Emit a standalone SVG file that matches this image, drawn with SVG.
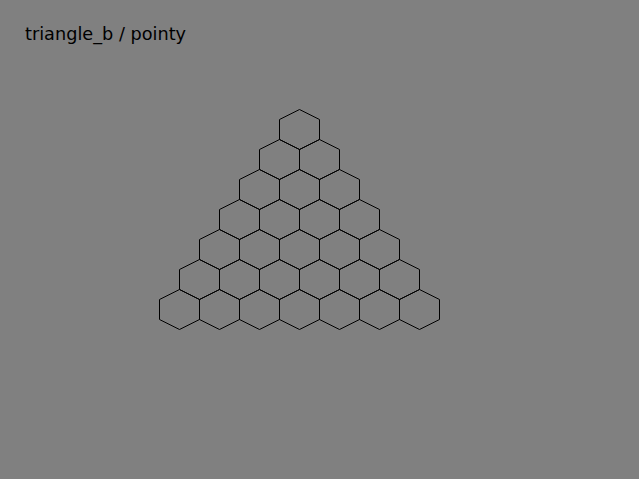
<svg xmlns="http://www.w3.org/2000/svg" xmlns:xlink="http://www.w3.org/1999/xlink" width="639" height="479" viewBox="0 0 639 479">
<style>
.hex{fill:none;stroke:#000;stroke-width:1}
.title{font-family:"DejaVu Sans",sans-serif;font-size:17.7px;fill:#000}
</style>
<defs>
<polygon id="h" class="hex" points="0,-20 20,-10 20,10 0,20 -20,10 -20,-10"/>
</defs>
<rect width="639" height="479" fill="#808080"/>
<text class="title" x="25" y="40">triangle_b / pointy</text>
<g id="connectors"/>
<g id="r0c0"><use xlink:href="#h" x="299.5" y="129.5"/></g>
<g id="r1c0"><use xlink:href="#h" x="279.5" y="159.5"/></g>
<g id="r1c1"><use xlink:href="#h" x="319.5" y="159.5"/></g>
<g id="r2c0"><use xlink:href="#h" x="259.5" y="189.5"/></g>
<g id="r2c1"><use xlink:href="#h" x="299.5" y="189.5"/></g>
<g id="r2c2"><use xlink:href="#h" x="339.5" y="189.5"/></g>
<g id="r3c0"><use xlink:href="#h" x="239.5" y="219.5"/></g>
<g id="r3c1"><use xlink:href="#h" x="279.5" y="219.5"/></g>
<g id="r3c2"><use xlink:href="#h" x="319.5" y="219.5"/></g>
<g id="r3c3"><use xlink:href="#h" x="359.5" y="219.5"/></g>
<g id="r4c0"><use xlink:href="#h" x="219.5" y="249.5"/></g>
<g id="r4c1"><use xlink:href="#h" x="259.5" y="249.5"/></g>
<g id="r4c2"><use xlink:href="#h" x="299.5" y="249.5"/></g>
<g id="r4c3"><use xlink:href="#h" x="339.5" y="249.5"/></g>
<g id="r4c4"><use xlink:href="#h" x="379.5" y="249.5"/></g>
<g id="r5c0"><use xlink:href="#h" x="199.5" y="279.5"/></g>
<g id="r5c1"><use xlink:href="#h" x="239.5" y="279.5"/></g>
<g id="r5c2"><use xlink:href="#h" x="279.5" y="279.5"/></g>
<g id="r5c3"><use xlink:href="#h" x="319.5" y="279.5"/></g>
<g id="r5c4"><use xlink:href="#h" x="359.5" y="279.5"/></g>
<g id="r5c5"><use xlink:href="#h" x="399.5" y="279.5"/></g>
<g id="r6c0"><use xlink:href="#h" x="179.5" y="309.5"/></g>
<g id="r6c1"><use xlink:href="#h" x="219.5" y="309.5"/></g>
<g id="r6c2"><use xlink:href="#h" x="259.5" y="309.5"/></g>
<g id="r6c3"><use xlink:href="#h" x="299.5" y="309.5"/></g>
<g id="r6c4"><use xlink:href="#h" x="339.5" y="309.5"/></g>
<g id="r6c5"><use xlink:href="#h" x="379.5" y="309.5"/></g>
<g id="r6c6"><use xlink:href="#h" x="419.5" y="309.5"/></g>
</svg>
